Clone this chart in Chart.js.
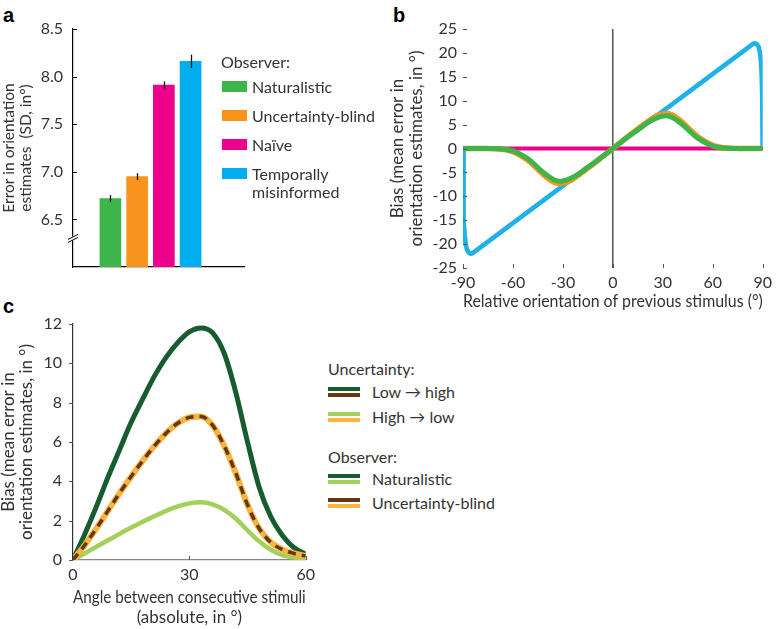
<!DOCTYPE html>
<html lang="en">
<head>
  <meta charset="UTF-8">
  <title>Observer models - bias and error</title>
  <script src="https://cdn.jsdelivr.net/npm/chart.js@4.4.1/dist/chart.umd.min.js"></script>
  <style>
    body { margin: 0; background: #fff; width: 777px; height: 629px; position: relative; overflow: hidden;
           font-family: Lato, "Open Sans", sans-serif; color: #333; }
    canvas { position: absolute; }
    .letter { position: absolute; font: bold 20px "Liberation Sans", Arial, sans-serif; line-height: 20px; color: #000; }
    .lg { position: absolute; font-size: 16px; line-height: 18px; white-space: nowrap; }
    .sw { position: absolute; }
  </style>
</head>
<body>
  <div class="letter" style="left:3px; top:5px">a</div>
  <div class="letter" style="left:393px; top:5px">b</div>
  <div class="letter" style="left:3px; top:296px">c</div>

  <canvas id="chartA" width="250" height="300" style="left:0; top:0"></canvas>
  <canvas id="chartB" width="397" height="320" style="left:380px; top:0"></canvas>
  <canvas id="chartC" width="320" height="329" style="left:0; top:300px"></canvas>

  <div id="legendA"></div>
  <div id="legendC"></div>

  <script>
    // ---- panel a: overall error per observer
    const aObservers = ['Naturalistic', 'Uncertainty-blind', 'Naïve', 'Temporally misinformed'];
    const aColors = ['#3db54a', '#f7941d', '#ec008c', '#00aeef'];
    const aError = [6.72, 6.95, 7.91, 8.16];
    const aErrBar = [0.035, 0.035, 0.04, 0.07];
    const aTicks = [6.5, 7.0, 7.5, 8.0, 8.5];
    const aBreak = 6.3;

    // ---- panel b: bias vs relative orientation
    const bX = [-90, -85, -80, -75, -70, -65, -60, -55, -50, -45, -40, -35, -32, -30, -25, -20, -15, -10, -5, 0,
                5, 10, 15, 20, 25, 30, 32, 35, 40, 45, 50, 55, 60, 65, 70, 75, 80, 85, 90];
    const bNaturalistic = [0, 0, 0, 0, -0.04, -0.15, -0.5, -1.3, -2.4, -4.0, -5.5, -6.6, -6.85, -6.8, -6.2, -5.2, -3.9, -2.7, -1.35, 0,
                           1.35, 2.7, 3.9, 5.2, 6.2, 6.8, 6.85, 6.6, 5.5, 4.0, 2.4, 1.3, 0.5, 0.15, 0.04, 0, 0, 0, 0];
    const bBlind = [0, 0, 0, -0.02, -0.07, -0.22, -0.65, -1.55, -2.75, -4.4, -6.0, -7.1, -7.3, -7.25, -6.6, -5.4, -4.1, -2.75, -1.4, 0,
                    1.4, 2.75, 4.1, 5.4, 6.6, 7.25, 7.3, 7.1, 6.0, 4.4, 2.75, 1.55, 0.65, 0.22, 0.07, 0.02, 0, 0, 0];
    const bNaiveX = [-90, 90];
    const bNaive = [0, 0];
    const bTempX = [-90, -89.9, -89.7, -89.4, -89, -88.4, -87.6, -86.6, -85.4, -84.2,
                    84.2, 85.4, 86.6, 87.6, 88.4, 89, 89.4, 89.7, 89.9, 90];
    const bTemp = [0, -6, -11, -15, -18, -20, -21.2, -21.8, -22.0, -21.9,
                   21.9, 22.0, 21.8, 21.2, 20, 18, 15, 11, 6, 0];
    const bTicksX = [-90, -60, -30, 0, 30, 60, 90];
    const bTicksY = [-25, -20, -15, -10, -5, 0, 5, 10, 15, 20, 25];

    // ---- panel c: bias vs absolute angle, by uncertainty order
    const cX = [0, 3, 6, 9, 12, 15, 18, 21, 24, 27, 30, 33, 36, 39, 42, 45, 48, 51, 54, 57, 60];
    const cNatLowHigh = [0, 1.3, 2.7, 4.2, 5.6, 7.0, 8.2, 9.35, 10.3, 11.05, 11.6, 11.8, 11.55, 10.5, 8.5, 6.0, 3.7, 2.2, 1.25, 0.62, 0.3];
    const cNatHighLow = [0, 0.33, 0.67, 1.0, 1.33, 1.65, 1.95, 2.23, 2.5, 2.73, 2.88, 2.94, 2.83, 2.55, 2.1, 1.5, 0.95, 0.52, 0.25, 0.12, 0.06];
    const cBlind = [0, 0.75, 1.6, 2.5, 3.4, 4.25, 5.05, 5.8, 6.45, 6.95, 7.25, 7.3, 6.85, 5.8, 4.4, 2.8, 1.6, 0.9, 0.53, 0.33, 0.2];
    const cTicksX = [0, 30, 60];
    const cTicksY = [0, 2, 4, 6, 8, 10, 12];

    const FONT = 'Lato';
    const TXT = '#333';
    const pts = (xs, ys) => xs.map((x, i) => ({x: x, y: ys[i]}));
    const setTicks = arr => scale => { scale.ticks = arr.map(v => ({value: v})); };

    // short tick marks, drawn on the inside or outside of the plot area
    const tickMarks = {
      id: 'tickMarks',
      afterDraw(chart, args, opts) {
        if (!opts.marks) return;
        const ctx = chart.ctx;
        ctx.save();
        ctx.strokeStyle = opts.color || '#333';
        ctx.lineWidth = 1;
        opts.marks.forEach(m => {
          const s = chart.scales[m.scale];
          s.ticks.forEach(t => {
            const p = Math.round(s.getPixelForValue(t.value)) + 0.5;
            ctx.beginPath();
            if (s.isHorizontal()) { ctx.moveTo(p, s.top); ctx.lineTo(p, s.top + m.len); }
            else { ctx.moveTo(s.right, p); ctx.lineTo(s.right + m.len, p); }
            ctx.stroke();
          });
        });
        ctx.restore();
      }
    };

    // error bars + axis break for panel a
    const barExtras = {
      id: 'barExtras',
      afterDraw(chart) {
        const ctx = chart.ctx, xs = chart.scales.x, ys = chart.scales.y;
        ctx.save();
        ctx.strokeStyle = '#111';
        ctx.lineWidth = 1.3;
        aError.forEach((v, i) => {
          const x = Math.round(xs.getPixelForValue(i + 1)) + 0.5;
          ctx.beginPath();
          ctx.moveTo(x, ys.getPixelForValue(v - aErrBar[i]));
          ctx.lineTo(x, ys.getPixelForValue(v + aErrBar[i]));
          ctx.stroke();
        });
        const by = ys.getPixelForValue(aBreak), bx = xs.left;
        ctx.fillStyle = '#fff';
        ctx.fillRect(bx - 2, by - 2, 4, 4);
        ctx.lineWidth = 1;
        ctx.strokeStyle = '#000';
        ctx.beginPath();
        ctx.moveTo(bx - 5, by + 1); ctx.lineTo(bx + 5, by - 4);
        ctx.moveTo(bx - 5, by + 4); ctx.lineTo(bx + 5, by - 1);
        ctx.stroke();
        ctx.restore();
      }
    };

    Chart.register(tickMarks);

    // ---------- panel a
    new Chart(document.getElementById('chartA'), {
      type: 'bar',
      data: {
        datasets: [{
          data: pts([1, 2, 3, 4], aError),
          backgroundColor: aColors,
          barThickness: 21
        }]
      },
      options: {
        responsive: false,
        animation: false,
        layout: { padding: { top: 29, right: 6, left: 0, bottom: 0 } },
        plugins: {
          legend: { display: false },
          tooltip: { enabled: false },
          tickMarks: { color: '#000', marks: [{ scale: 'y', len: 4 }] }
        },
        scales: {
          x: {
            type: 'linear', min: -0.4, max: 6, offset: false,
            ticks: { display: false },
            grid: { display: false, drawTicks: false },
            border: { color: '#000', width: 1.2 },
            afterFit: s => { s.height = 33; }
          },
          y: {
            min: 6, max: 8.5, beginAtZero: false,
            afterBuildTicks: setTicks(aTicks),
            ticks: { callback: v => v.toFixed(1), padding: 10, color: TXT, font: { family: FONT, size: 16 } },
            grid: { display: false, drawTicks: false },
            border: { color: '#000', width: 1.2 },
            title: {
              display: true, text: ['Error in orientation', 'estimates  (SD, in°)'], color: TXT, align: 'center',
              font: { family: FONT, size: 15.5, lineHeight: 1.12 }, padding: { top: 0, bottom: 0 }
            },
            afterFit: s => { s.width = 73; }
          }
        }
      },
      plugins: [barExtras]
    });

    // ---------- panel b
    const lineOpts = { pointRadius: 0, fill: false, cubicInterpolationMode: 'monotone' };
    new Chart(document.getElementById('chartB'), {
      type: 'line',
      data: {
        datasets: [
          Object.assign({ label: 'Naturalistic', data: pts(bX, bNaturalistic), borderColor: '#3db54a', borderWidth: 5 }, lineOpts),
          Object.assign({ label: 'Uncertainty-blind', data: pts(bX, bBlind), borderColor: '#f7941d', borderWidth: 5.5 }, lineOpts),
          Object.assign({ label: 'Naïve', data: pts(bNaiveX, bNaive), borderColor: '#ec008c', borderWidth: 4 }, lineOpts),
          { label: 'Temporally misinformed', data: pts(bTempX, bTemp), borderColor: '#1fb1ea', borderWidth: 4.6,
            pointRadius: 0, fill: false, tension: 0, borderJoinStyle: 'round' }
        ]
      },
      options: {
        responsive: false,
        animation: false,
        layout: { padding: { top: 29, right: 10, left: 0, bottom: 0 } },
        plugins: {
          legend: { display: false },
          tooltip: { enabled: false },
          tickMarks: { color: '#555', marks: [{ scale: 'y', len: 4 }, { scale: 'x', len: -4 }] }
        },
        scales: {
          x: {
            type: 'linear', min: -90, max: 90,
            afterBuildTicks: setTicks(bTicksX),
            ticks: { padding: 5, color: TXT, font: { family: FONT, size: 16 } },
            grid: { drawTicks: false, lineWidth: 1.5, color: c => (c.tick && c.tick.value === 0 ? '#555' : 'rgba(0,0,0,0)') },
            border: { display: false },
            title: {
              display: true, text: 'Relative orientation of previous stimulus (°)', color: TXT,
              font: { family: FONT, size: 16.3, lineHeight: 1.2 }, padding: { top: 0, bottom: 8 }
            },
            afterFit: s => { s.height = 52; }
          },
          y: {
            min: -25, max: 25,
            afterBuildTicks: setTicks(bTicksY),
            ticks: { padding: 6, color: TXT, font: { family: FONT, size: 16 } },
            grid: { display: false, drawTicks: false },
            border: { display: false },
            title: {
              display: true, text: ['Bias (mean error in', 'orientation estimates, in °)'], color: TXT,
              font: { family: FONT, size: 17, lineHeight: 1.06 }, padding: { top: 9, bottom: 0 }
            },
            afterFit: s => { s.width = 83; }
          }
        }
      }
    });

    // ---------- panel c
    new Chart(document.getElementById('chartC'), {
      type: 'line',
      data: {
        datasets: [
          Object.assign({ label: 'Uncertainty-blind, low → high', data: pts(cX, cBlind), borderColor: '#603913',
                          borderWidth: 3.5, borderDash: [8, 6] }, lineOpts),
          Object.assign({ label: 'Uncertainty-blind, high → low', data: pts(cX, cBlind), borderColor: '#fbb33f', borderWidth: 6 }, lineOpts),
          Object.assign({ label: 'Naturalistic, low → high', data: pts(cX, cNatLowHigh), borderColor: '#175c2f', borderWidth: 5 }, lineOpts),
          Object.assign({ label: 'Naturalistic, high → low', data: pts(cX, cNatHighLow), borderColor: '#a2d05a', borderWidth: 4.5 }, lineOpts)
        ]
      },
      options: {
        responsive: false,
        animation: false,
        layout: { padding: { top: 24, right: 9, left: 0, bottom: 0 } },
        plugins: {
          legend: { display: false },
          tooltip: { enabled: false },
          tickMarks: { color: '#555', marks: [{ scale: 'y', len: -4 }, { scale: 'x', len: -4 }] }
        },
        scales: {
          x: {
            type: 'linear', min: 0, max: 60,
            afterBuildTicks: setTicks(cTicksX),
            ticks: { padding: 5, color: TXT, font: { family: FONT, size: 16 } },
            grid: { display: false, drawTicks: false },
            border: { color: '#888', width: 1.2 },
            title: {
              display: true, text: ['Angle between consecutive stimuli', '(absolute, in °)'], color: TXT,
              font: { family: FONT, size: 17, lineHeight: 1.18 }, padding: { top: 0, bottom: 1 }
            },
            afterFit: s => { s.height = 69; }
          },
          y: {
            min: 0, max: 12,
            afterBuildTicks: setTicks(cTicksY),
            ticks: { padding: 11, color: TXT, font: { family: FONT, size: 16 } },
            grid: { display: false, drawTicks: false },
            border: { color: '#333', width: 1.2 },
            title: {
              display: true, text: ['Bias (mean error in', 'orientation estimates, in °)'], color: TXT,
              font: { family: FONT, size: 17, lineHeight: 1.04 }, padding: { top: 0, bottom: 0 }
            },
            afterFit: s => { s.width = 73; }
          }
        }
      }
    });

    // ---------- html legends
    function addText(parent, text, left, top) {
      const d = document.createElement('div');
      d.className = 'lg';
      d.style.left = left + 'px';
      d.style.top = top + 'px';
      d.textContent = text;
      parent.appendChild(d);
      return d;
    }
    function addBox(parent, left, top, w, h, color) {
      const d = document.createElement('div');
      d.className = 'sw';
      d.style.cssText = 'left:' + left + 'px;top:' + top + 'px;width:' + w + 'px;height:' + h + 'px;background:' + color;
      parent.appendChild(d);
    }

    const legA = document.getElementById('legendA');
    addText(legA, 'Observer:', 221, 53);
    aObservers.forEach((name, i) => {
      const cy = 86.5 + 29 * i;
      addBox(legA, 222, cy - 5.5, 25, 11, aColors[i]);
      const t = addText(legA, name, 252, cy - 9);
      t.style.whiteSpace = 'normal';
      t.style.width = '130px';
    });

    const legC = document.getElementById('legendC');
    const cLegend = [
      { head: 'Uncertainty:', y: 369, items: [
        { text: 'Low → high', colors: ['#175c2f', '#603913'], y: 392 },
        { text: 'High → low', colors: ['#a2d05a', '#fbb33f'], y: 416.5 } ] },
      { head: 'Observer:', y: 456.5, items: [
        { text: 'Naturalistic', colors: ['#175c2f', '#a2d05a'], y: 478.5 },
        { text: 'Uncertainty-blind', colors: ['#603913', '#fbb33f'], y: 503 } ] }
    ];
    cLegend.forEach(g => {
      addText(legC, g.head, 328, g.y - 9);
      g.items.forEach(it => {
        addBox(legC, 328, it.y - 5, 32, 4, it.colors[0]);
        addBox(legC, 328, it.y + 1, 32, 4, it.colors[1]);
        addText(legC, it.text, 372, it.y - 9);
      });
    });
  </script>
</body>
</html>
